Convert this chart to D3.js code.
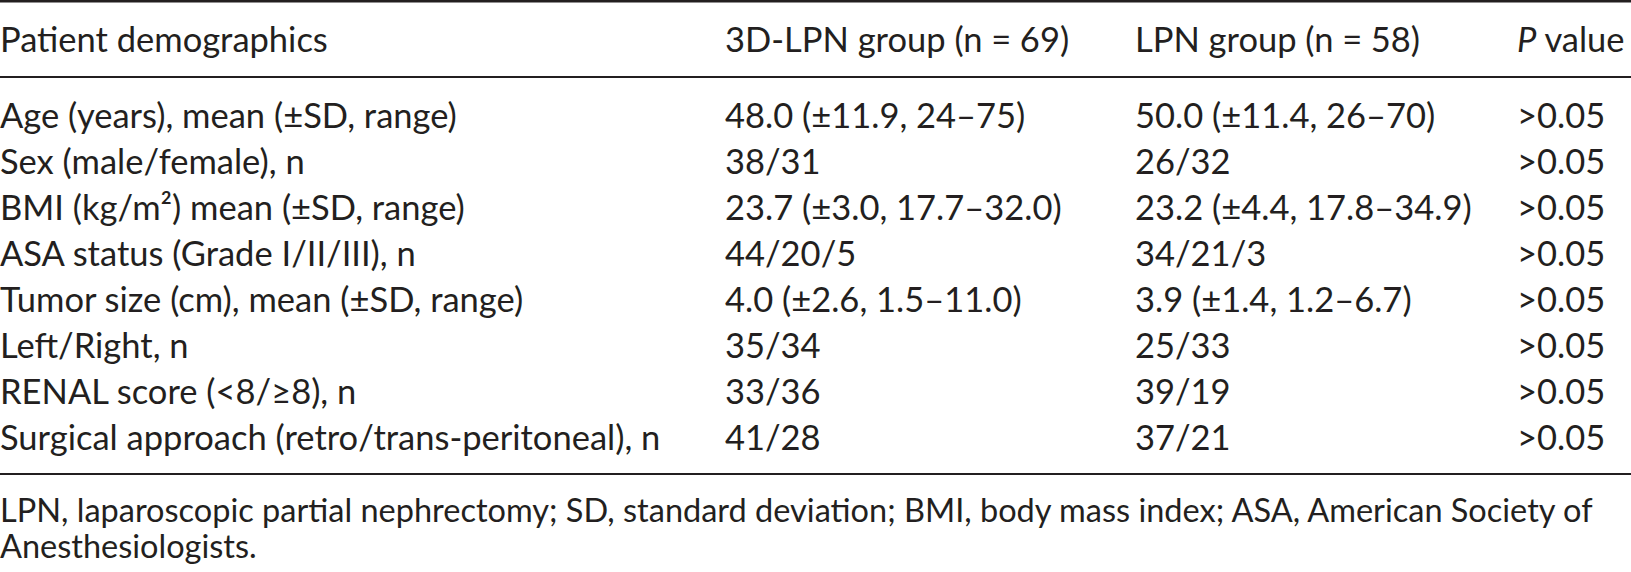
<!DOCTYPE html>
<html>
<head>
<meta charset="utf-8">
<script src="https://cdn.jsdelivr.net/npm/d3@7"></script>
<style>
  html, body { margin: 0; padding: 0; background: #fff; }
  svg { display: block; }
  .cell { font-family: Lato, "Open Sans", sans-serif; font-size: 34.5px; fill: #231f20; }
  .footnote text { font-size: 32.5px; }
</style>
</head>
<body>
<svg id="chart" width="1631" height="572"></svg>
<script>
// table content
var columnHeaders = ['Patient demographics', '3D-LPN group (n\u2005=\u200569)', 'LPN group (n\u2005=\u200558)', 'P value'];
var rowLabels = [
    'Age (years), mean (\u00b1SD, range)',
    'Sex (male/female), n',
    'BMI (kg/m\u00b2) mean (\u00b1SD, range)',
    'ASA status (Grade I/II/III), n',
    'Tumor size (cm), mean (\u00b1SD, range)',
    'Left/Right, n',
    'RENAL score (<8/\u22658), n',
    'Surgical approach (retro/trans-peritoneal), n'
];
var lpn3dValues = [
    '48.0 (\u00b111.9, 24\u201375)',
    '38/31',
    '23.7 (\u00b13.0, 17.7\u201332.0)',
    '44/20/5',
    '4.0 (\u00b12.6, 1.5\u201311.0)',
    '35/34',
    '33/36',
    '41/28'
];
var lpnValues = [
    '50.0 (\u00b111.4, 26\u201370)',
    '26/32',
    '23.2 (\u00b14.4, 17.8\u201334.9)',
    '34/21/3',
    '3.9 (\u00b11.4, 1.2\u20136.7)',
    '25/33',
    '39/19',
    '37/21'
];
var pValues = ['>0.05', '>0.05', '>0.05', '>0.05', '>0.05', '>0.05', '>0.05', '>0.05'];
var footnoteLines = [
    'LPN, laparoscopic partial nephrectomy; SD, standard deviation; BMI, body mass index; ASA, American Society of',
    'Anesthesiologists.'
];

var width = 1631;
var svg = d3.select('#chart');

// column x positions (left aligned cells)
var x = d3.scaleOrdinal()
    .domain([0, 1, 2, 3])
    .range([0, 725, 1135, 1517]);

// body row baselines
var y = d3.scaleLinear()
    .domain([0, rowLabels.length - 1])
    .range([128, 450]);

var rules = [
    { y: 1.2, w: 2.4 },
    { y: 77, w: 2.2 },
    { y: 474, w: 2.2 }
];

svg.selectAll('.rule')
    .data(rules)
    .enter()
    .append('line')
    .attr('class', 'rule')
    .attr('x1', 0)
    .attr('x2', width)
    .attr('y1', function (d) { return d.y; })
    .attr('y2', function (d) { return d.y; })
    .attr('stroke', '#231f20')
    .attr('stroke-width', function (d) { return d.w; });

// header
var header = svg.append('g').attr('class', 'header');
header.selectAll('text')
    .data(columnHeaders)
    .enter()
    .append('text')
    .attr('class', 'cell')
    .attr('x', function (d, i) { return x(i); })
    .attr('y', 52)
    .each(function (d) {
        var t = d3.select(this);
        if (d.indexOf('P ') === 0) {
            // P is set in italics
            t.append('tspan').style('font-style', 'italic').text('P');
            t.append('tspan').text(d.slice(1));
        } else {
            t.text(d);
        }
    });

// body rows
var rows = rowLabels.map(function (label, i) {
    return [label, lpn3dValues[i], lpnValues[i], pValues[i]];
});

var rowGroups = svg.selectAll('.row')
    .data(rows)
    .enter()
    .append('g')
    .attr('class', 'row')
    .attr('transform', function (d, i) { return 'translate(0,' + y(i) + ')'; });

rowGroups.selectAll('text')
    .data(function (d) { return d; })
    .enter()
    .append('text')
    .attr('class', 'cell')
    .attr('x', function (d, i) { return x(i); })
    .text(function (d) { return d; });

// footnote
svg.append('g')
    .attr('class', 'footnote')
    .selectAll('text')
    .data(footnoteLines)
    .enter()
    .append('text')
    .attr('class', 'cell')
    .attr('x', 0)
    .attr('y', function (d, i) { return 522 + i * 36; })
    .text(function (d) { return d; });
</script>
</body>
</html>
